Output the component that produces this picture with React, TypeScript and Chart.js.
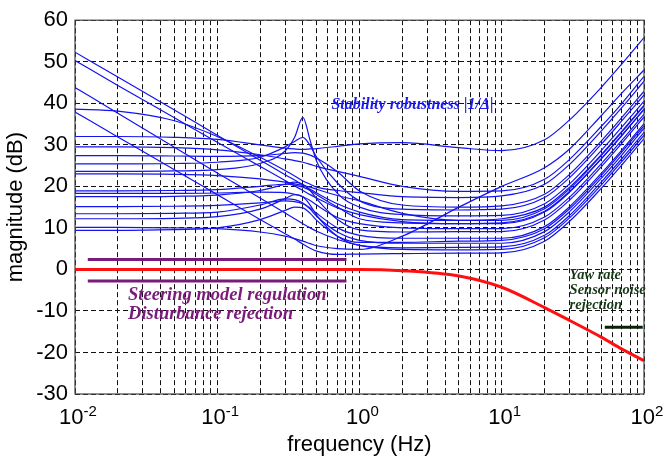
import React, { useEffect, useRef } from 'react';
import { Chart, registerables } from 'chart.js';
Chart.register(...registerables);

// Frequencies (Hz) at which the curves were read
const FREQ = [0.01, 0.02, 0.05, 0.1, 0.2, 0.3, 0.35, 0.4, 0.45, 0.5, 0.7, 1, 2, 5, 10, 20, 30, 50, 70, 100];

// Stability robustness |1/Δ| curves (dB)
const CURVE_01 = [32, 32, 31.8, 31.3, 30, 29.2, 29, 28.9, 29, 29.1, 29.6, 30.2, 30.5, 29.3, 28.6, 31.2, 36, 43.8, 49.5, 55.8];
const CURVE_02 = [52.3, 46.3, 38.4, 32.3, 26.3, 22.8, 21.5, 20.3, 19.3, 18.4, 15.8, 13.8, 12, 11.8, 12.2, 15, 19.8, 27.6, 33.3, 39.5];
const CURVE_03 = [50.3, 44.3, 36.5, 30.6, 24.8, 21.4, 20.1, 19, 18, 17.2, 14.8, 13.2, 11.5, 11, 11.2, 14, 18.8, 26.6, 32.3, 38.5];
const CURVE_04 = [38.6, 38.1, 35.8, 32, 27, 23.8, 22.5, 21.3, 20.5, 19.8, 19, 18.5, 17.5, 17.3, 17.7, 20.5, 25.3, 33.3, 39, 45.3];
const CURVE_05 = [43.8, 37.6, 29.4, 23.2, 17.2, 13.6, 12.2, 11, 10, 9.2, 7.2, 5.8, 4.8, 4.7, 4.8, 7.6, 12.4, 20.3, 26, 32.3];
const CURVE_06 = [37.9, 31.9, 24, 18, 12, 8.6, 7.3, 6.1, 5.1, 4.4, 3.6, 3.7, 3.8, 3.9, 4, 6.8, 11.6, 19.5, 25.2, 31.5];
const CURVE_07 = [29.5, 29.5, 29.3, 28.8, 27.6, 26.6, 26.2, 25.8, 25.3, 24.8, 23.6, 22.4, 20, 18.8, 18.9, 21.7, 26.5, 34.4, 40, 46.5];
const CURVE_08 = [27.4, 27.4, 27.3, 27.2, 27.4, 27.9, 28.1, 28, 27.5, 26.8, 23.5, 18.9, 15.5, 15, 15.3, 18.1, 22.9, 30.9, 36.6, 42.9];
const CURVE_09 = [25.4, 25.4, 25.5, 25.8, 27, 29.5, 30.8, 31.8, 29.8, 27, 20.8, 16.5, 14.5, 14.3, 14.5, 17.3, 22.1, 30.1, 35.8, 42];
const CURVE_10 = [23.6, 23.6, 23.7, 24, 25.5, 28.5, 31.8, 36.6, 31, 26, 18.3, 15, 13.2, 12.9, 13, 15.8, 20.6, 28.6, 34.3, 40.5];
const CURVE_11 = [23, 23, 22.9, 22.6, 21.8, 21, 20.6, 20.2, 19.8, 19.3, 17.8, 16.5, 13.5, 11.8, 11.8, 14.6, 19.4, 27.4, 33.1, 39.4];
const CURVE_12 = [18.9, 18.9, 19, 19.2, 20, 20.5, 20.3, 19.8, 19, 18, 15, 12.2, 11.2, 11, 11, 13.8, 18.6, 26.6, 32.3, 38.6];
const CURVE_13 = [18.3, 18.3, 18.3, 18.4, 18.6, 18.5, 18.1, 17.5, 16.6, 15.5, 12.5, 11, 10, 9.8, 9.8, 12.6, 17.4, 25.4, 31.1, 37.4];
const CURVE_14 = [17.5, 17.5, 17.6, 17.9, 19, 20.5, 21, 20.5, 19, 17, 12, 9.5, 9, 9.1, 9.1, 11.9, 16.7, 24.7, 30.4, 36.7];
const CURVE_15 = [15.1, 15.1, 15.2, 15.4, 16, 16.5, 16.3, 15.8, 14.8, 13.5, 10, 8.2, 7.5, 7.5, 7.5, 10.3, 15.1, 23.1, 28.8, 35.1];
const CURVE_16 = [13.4, 13.4, 13.5, 13.8, 15.5, 17, 16.8, 16, 14.5, 12.8, 9, 7, 6.3, 6.3, 6.3, 9.1, 13.9, 21.9, 27.6, 34];
const CURVE_17 = [12.2, 12.2, 12.3, 12.7, 14.5, 17, 18, 17.5, 15.5, 13, 8, 5.8, 5.2, 5.3, 5.4, 8.2, 13, 21, 26.7, 33];
const CURVE_18 = [10.1, 10.1, 10, 9.8, 9, 8, 7.4, 6.8, 6.2, 5.7, 5, 4.8, 8, 15, 20, 24.5, 29, 37, 42.5, 48];
const CURVE_19 = [9.4, 9.4, 9.6, 10, 12, 14.2, 15, 14.8, 13.5, 11.8, 8, 6.5, 6.5, 6.8, 7, 9.8, 14.6, 22.6, 28.3, 34.6];

const BLUE_CURVES = [
  CURVE_01, CURVE_02, CURVE_03, CURVE_04, CURVE_05, CURVE_06, CURVE_07, CURVE_08, CURVE_09, CURVE_10,
  CURVE_11, CURVE_12, CURVE_13, CURVE_14, CURVE_15, CURVE_16, CURVE_17, CURVE_18, CURVE_19,
];

// Red closed-loop curve (dB)
const RED_CURVE = [0, 0, 0, 0, 0, 0, 0, 0, 0, 0, 0, 0, -0.3, -1.6, -4.3, -9.2, -12.3, -16.3, -19.2, -22];

// Specification bars
const PURPLE_FREQ = [0.0123, 0.81];
const PURPLE_UPPER = 2.4;
const PURPLE_LOWER = -2.8;
const BLACK_FREQ = [53, 98];
const BLACK_LEVEL = -13.9;

// Axes
const Y_MIN = -30;
const Y_MAX = 60;
const X_MIN = 0.01;
const X_MAX = 100;
const X_LABEL_VALUES = [0.01, 0.1, 1, 10, 100];
const X_LABEL_EXPONENTS = ['-2', '-1', '0', '1', '2'];
const X_GRID = [
  0.01, 0.02, 0.03, 0.04, 0.05, 0.06, 0.07, 0.08, 0.09,
  0.1, 0.2, 0.3, 0.4, 0.5, 0.6, 0.7, 0.8, 0.9,
  1, 2, 3, 4, 5, 6, 7, 8, 9,
  10, 20, 30, 40, 50, 60, 70, 80, 90, 100,
];

// Annotations: text, frequency, dB
const BLUE_NOTE = { text: 'Stability robustness |1/Δ|', f: 0.635, db: 39.6 };
const PURPLE_NOTES = [
  { text: 'Steering model regulation', f: 0.0236, db: -6.2 },
  { text: 'Disturbance rejection', f: 0.0236, db: -10.9 },
];
const GREEN_NOTES = [
  { text: 'Yaw rate', f: 30, db: -1.5 },
  { text: 'Sensor noise', f: 30, db: -5.0 },
  { text: 'rejection', f: 30, db: -8.6 },
];

const SANS = '"Liberation Sans", Arial, sans-serif';
const SERIF = '"Liberation Serif", "Times New Roman", serif';

const decorPlugin = {
  id: 'decor',
  afterDraw(chart: any) {
    const ctx = chart.ctx;
    const xs = chart.scales.x;
    const ys = chart.scales.y;
    const a = chart.chartArea;
    ctx.save();
    // frame
    ctx.strokeStyle = '#444';
    ctx.lineWidth = 1.2;
    ctx.setLineDash([]);
    ctx.strokeRect(a.left, a.top, a.right - a.left, a.bottom - a.top);

    // annotations
    ctx.textBaseline = 'middle';
    ctx.textAlign = 'left';
    ctx.fillStyle = '#1a1aee';
    ctx.font = `italic bold 16px ${SERIF}`;
    ctx.fillText(BLUE_NOTE.text, xs.getPixelForValue(BLUE_NOTE.f), ys.getPixelForValue(BLUE_NOTE.db));

    ctx.fillStyle = '#7a1a7a';
    ctx.font = `italic bold 18.5px ${SERIF}`;
    PURPLE_NOTES.forEach((n) => {
      ctx.fillText(n.text, xs.getPixelForValue(n.f), ys.getPixelForValue(n.db));
    });

    ctx.fillStyle = '#173817';
    ctx.font = `italic bold 14.5px ${SERIF}`;
    GREEN_NOTES.forEach((n) => {
      ctx.fillText(n.text, xs.getPixelForValue(n.f), ys.getPixelForValue(n.db));
    });

    // x tick labels with exponents
    ctx.fillStyle = '#000';
    ctx.textBaseline = 'alphabetic';
    X_LABEL_VALUES.forEach((v, i) => {
      const px = xs.getPixelForValue(v);
      ctx.font = `22px ${SANS}`;
      const w1 = ctx.measureText('10').width;
      ctx.font = `15px ${SANS}`;
      const w2 = ctx.measureText(X_LABEL_EXPONENTS[i]).width;
      const start = px - (w1 + w2) / 2 + 3;
      ctx.font = `22px ${SANS}`;
      ctx.fillText('10', start, 424);
      ctx.font = `15px ${SANS}`;
      ctx.fillText(X_LABEL_EXPONENTS[i], start + w1, 416);
    });

    // axis titles
    ctx.font = `22px ${SANS}`;
    ctx.textAlign = 'center';
    ctx.fillText('frequency (Hz)', (a.left + a.right) / 2, 451);
    ctx.save();
    ctx.translate(16, (a.top + a.bottom) / 2);
    ctx.rotate(-Math.PI / 2);
    ctx.textBaseline = 'middle';
    ctx.fillText('magnitude (dB)', 0, 0);
    ctx.restore();
    ctx.restore();
  },
};

export default function App() {
  const ref = useRef<HTMLCanvasElement>(null);
  useEffect(() => {
    if (!ref.current) return;
    const toPts = (ys: number[]) => FREQ.map((f, i) => ({ x: f, y: ys[i] }));
    const datasets: any[] = BLUE_CURVES.map((c) => ({
      data: toPts(c),
      borderColor: '#1414f0',
      borderWidth: 1.2,
      pointRadius: 0,
      cubicInterpolationMode: 'monotone',
      fill: false,
    }));
    datasets.push({
      data: toPts(RED_CURVE),
      borderColor: '#ff1010',
      borderWidth: 3,
      pointRadius: 0,
      cubicInterpolationMode: 'monotone',
      fill: false,
    });
    datasets.push({
      data: PURPLE_FREQ.map((f) => ({ x: f, y: PURPLE_UPPER })),
      borderColor: '#7a1a7a',
      borderWidth: 3,
      pointRadius: 0,
    });
    datasets.push({
      data: PURPLE_FREQ.map((f) => ({ x: f, y: PURPLE_LOWER })),
      borderColor: '#7a1a7a',
      borderWidth: 3,
      pointRadius: 0,
    });
    datasets.push({
      data: BLACK_FREQ.map((f) => ({ x: f, y: BLACK_LEVEL })),
      borderColor: '#0a200a',
      borderWidth: 3,
      pointRadius: 0,
    });

    const chart = new Chart(ref.current, {
      type: 'line',
      data: { datasets },
      options: {
        animation: false,
        responsive: false,
        devicePixelRatio: 1,
        layout: { padding: { top: 12, right: 23, left: 0, bottom: 0 } },
        plugins: { legend: { display: false }, tooltip: { enabled: false } },
        scales: {
          x: {
            type: 'logarithmic',
            min: X_MIN,
            max: X_MAX,
            afterBuildTicks: (scale: any) => {
              scale.ticks = X_GRID.map((v) => ({ value: v }));
            },
            afterFit: (scale: any) => {
              scale.height = 67;
            },
            ticks: { display: false, autoSkip: false },
            grid: { color: '#111', lineWidth: 1, drawTicks: false },
            border: { display: false, dash: [5, 3] },
          },
          y: {
            type: 'linear',
            min: Y_MIN,
            max: Y_MAX,
            ticks: {
              stepSize: 10,
              color: '#000',
              padding: 7,
              font: { family: SANS, size: 22 },
            },
            afterFit: (scale: any) => {
              scale.width = 75;
            },
            grid: { color: '#111', lineWidth: 1, drawTicks: false },
            border: { display: false, dash: [5, 3] },
          },
        },
      },
      plugins: [decorPlugin],
    });
    return () => chart.destroy();
  }, []);
  return (
    <div style={{ position: 'absolute', left: 0, top: 0, width: 667, height: 461, background: '#fff' }}>
      <canvas ref={ref} width={667} height={461} style={{ display: 'block' }} />
    </div>
  );
}
